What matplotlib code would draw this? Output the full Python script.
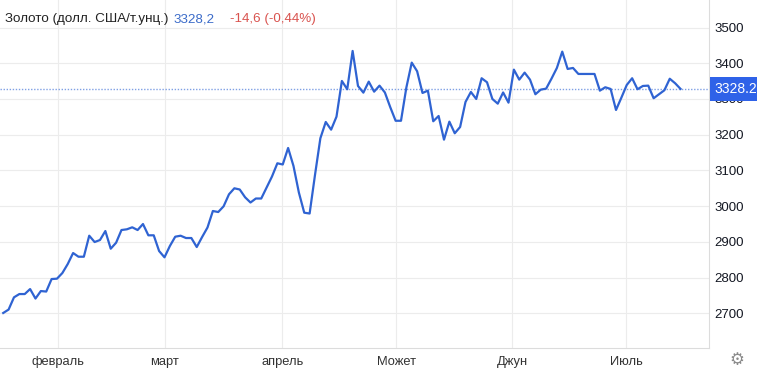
"""
Gold price chart (USD per troy ounce), Jan-Jul, redrawn in matplotlib.
Writes out.png (757x372).
"""
import matplotlib

matplotlib.use("Agg")
import matplotlib.pyplot as plt

plt.rcParams["font.family"] = ["Liberation Sans", "DejaVu Sans"]

# daily closes, one per trading day
PRICES = [
    2701, 2710.6, 2744.8, 2754, 2754, 2768, 2741.4, 2762.4, 2761, 2796,
    2797, 2812.8, 2838, 2868.8, 2858.5, 2858.5, 2917.3, 2899.6, 2905.2, 2930.4,
    2880.9, 2897.7, 2933.2, 2935.2, 2940.8, 2933.2, 2950, 2918.4, 2918.4, 2874.4,
    2856.8, 2888.4, 2914.5, 2917.3, 2910.8, 2910.8, 2885.6, 2913.6, 2940.2, 2986.4,
    2983.6, 2999.6, 3033.2, 3050, 3046.6, 3024.8, 3010.2, 3021.4, 3021.4, 3052.2,
    3083, 3120, 3116.6, 3162.8, 3112.4, 3038.2, 2981.7, 2979.4, 3087.2, 3190,
    3235.6, 3214.1, 3250.5, 3350.4, 3327.2, 3434.4, 3336.4, 3317.7, 3348.5, 3320.5,
    3337.3, 3318.2, 3277.1, 3239, 3239, 3332.2, 3401.7, 3377.6, 3316.8, 3323.3,
    3237.6, 3252.4, 3186.1, 3236.5, 3204, 3221.6, 3291.6, 3319.6, 3300, 3358,
    3346.8, 3300, 3286.9, 3318.2, 3289.7, 3382.1, 3354.1, 3373.7, 3354.1, 3313.2,
    3326.1, 3328.9, 3356.9, 3386.8, 3432.5, 3384, 3386.8, 3370, 3370, 3370,
    3370, 3323.3, 3332.8, 3328, 3269.2, 3303.7, 3339.2, 3358, 3327.2, 3336.4,
    3337.3, 3302, 3313.2, 3324.4, 3356.6, 3344, 3328.2,
]
MONTH_TICKS = [10.2, 30.1, 51.9, 73.1, 94.7, 115.9]
MONTH_LABELS = ["февраль", "март", "апрель", "Может", "Джун", "Июль"]
Y_TICKS = [2700, 2800, 2900, 3000, 3100, 3200, 3300, 3400, 3500]

TITLE = "Золото (долл. США/т.унц.)"
LAST_TXT = "3328,2"
CHANGE_TXT = "-14,6 (-0,44%)"
BADGE_TXT = "3328.2"

LINE_COLOR = "#2f63d2"
GRID_COLOR = "#ececec"
W, H = 757, 372


def main():
    fig = plt.figure(figsize=(W / 100, H / 100), dpi=100)
    ax = fig.add_axes([0, 24 / H, 709 / W, 1 - 24 / H])

    x = list(range(len(PRICES)))
    ax.plot(x, PRICES, color=LINE_COLOR, lw=1.6, solid_joinstyle="round", zorder=3)

    last = PRICES[-1]
    ax.axhline(last, color="#5f88de", lw=1.0, ls=(0, (1, 1.2)), alpha=0.8, zorder=2)

    ax.set_xlim(-0.6, 131.3)
    ax.set_ylim(2603, 3577)

    ax.set_xticks(MONTH_TICKS)
    ax.set_xticklabels(MONTH_LABELS)
    ax.set_yticks(Y_TICKS)
    ax.yaxis.tick_right()
    ax.tick_params(axis="both", length=0, labelsize=9.5, labelcolor="#131722")
    ax.tick_params(axis="x", pad=5.5, labelcolor="#333333", labelsize=9.3)
    ax.tick_params(axis="y", pad=3.6)

    ax.grid(True, color=GRID_COLOR, lw=0.8)
    ax.set_axisbelow(True)
    for side in ("top", "left"):
        ax.spines[side].set_visible(False)
    for side in ("bottom", "right"):
        ax.spines[side].set_color("#dcdcdc")
        ax.spines[side].set_linewidth(0.8)

    # current price badge on the right scale
    ax.annotate(BADGE_TXT, xy=(1.0, last), xycoords=ax.get_yaxis_transform(),
                xytext=(4.2, 0), textcoords="offset points",
                ha="left", va="center", fontsize=10, color="white", zorder=5,
                annotation_clip=False,
                bbox=dict(boxstyle="square,pad=0.38", fc="#2f62e8", ec="none"))

    # header line with three colours
    ty = 1 - 19 / H
    fig.text(5 / W, ty, TITLE, fontsize=9.65, color="#222222", va="center")
    fig.text(173 / W, ty, LAST_TXT, fontsize=9.65, color="#3b6bc9", va="center")
    fig.text(230 / W, ty, CHANGE_TXT, fontsize=9.65, color="#d9534f", va="center")

    # settings gear
    fig.text(737 / W, 1 - 360 / H, "\u2699", fontsize=12, color="#8a8a8a",
             ha="center", va="center", family=["DejaVu Sans"])

    fig.savefig("out.png", dpi=100)
    plt.close(fig)


if __name__ == "__main__":
    main()
